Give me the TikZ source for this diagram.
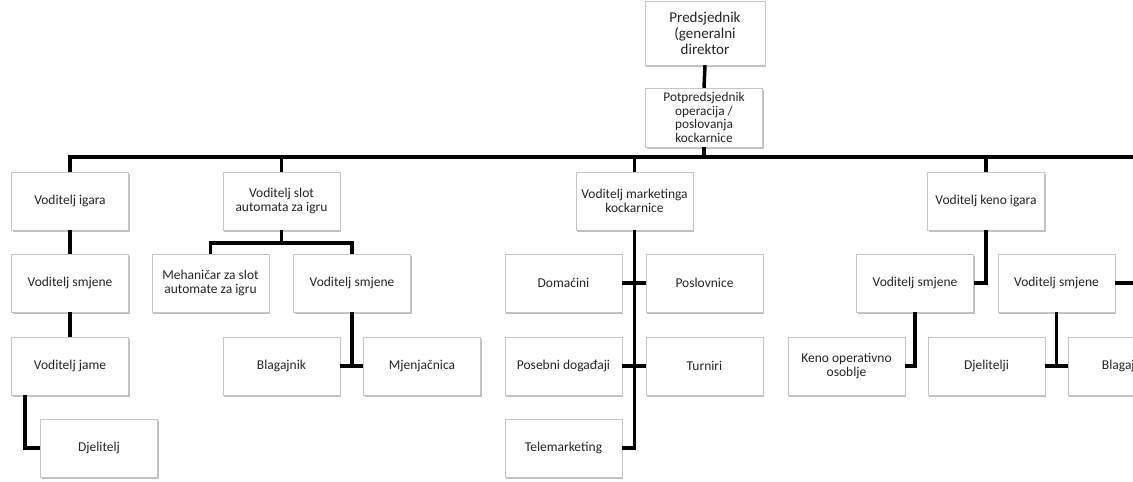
\documentclass[tikz,border=0pt]{standalone}
\usepackage{fontspec}
\setmainfont{Carlito}
\usetikzlibrary{shadows}
\begin{document}
\begin{tikzpicture}[x=1pt,y=-1pt,
  box/.style={draw=gray!45, fill=white, minimum width=117pt, minimum height=58pt,
    align=center, inner sep=2pt, text=black!85,
    font=\fontsize{13.5}{14.5}\selectfont,
    drop shadow={shadow xshift=1pt,shadow yshift=-2pt,fill=black!45,opacity=0.55}},
  conn/.style={line width=3.5pt, black}]
\useasboundingbox (0,0) rectangle (1133,482);
\clip (0,0) rectangle (1133,482);
\fill[white] (0,0) rectangle (1133,482);
% top
\node[box, minimum width=120pt, minimum height=64pt, font=\fontsize{15}{16}\selectfont] (pres) at (705,33) {Predsjednik\\(generalni\\direktor};
\node[box, minimum height=59pt, font=\fontsize{13.3}{13.6}\selectfont] (vp) at (704,117.5) {Potpredsjednik\\operacija /\\poslovanja\\kockarnice};
% level 1
\node[box] (igara) at (70,201) {Voditelj igara};
\node[box] (slot) at (281.5,201) {Voditelj slot\\automata za igru};
\node[box] (mkt) at (634.5,201) {Voditelj marketinga\\kockarnice};
\node[box] (keno) at (986,201) {Voditelj keno igara};
% level 2
\node[box] (smj1) at (70,283) {Voditelj smjene};
\node[box] (meh) at (210.5,283) {Mehaničar za slot\\automate za igru};
\node[box] (smjS) at (352,283) {Voditelj smjene};
\node[box] (dom) at (563.5,283) {Domaćini};
\node[box] (pos) at (704.5,283) {Poslovnice};
\node[box] (ksm1) at (915,283) {Voditelj smjene};
\node[box] (ksm2) at (1056.5,283) {Voditelj smjene};
% level 3
\node[box] (jame) at (70,366) {Voditelj jame};
\node[box] (blag) at (281.5,366) {Blagajnik};
\node[box] (mjen) at (422,366) {Mjenjačnica};
\node[box] (poseb) at (563.5,366) {Posebni događaji};
\node[box] (turn) at (704.5,366) {Turniri};
\node[box] (kop) at (846.5,366) {Keno operativno\\osoblje};
\node[box] (djl) at (986.5,366) {Djelitelji};
\node[box] (blag2) at (1126.5,366) {Blagajnik};
% level 4
\node[box] (djel) at (99,448) {Djelitelj};
\node[box] (tele) at (563.5,448) {Telemarketing};
% free ends
\coordinate (barR) at (1140,157);
\coordinate (kR) at (1140,283);
% connectors
\draw[conn] (pres.south) -- (vp.north);
\draw[conn] (igara.north) |- (barR);
\draw[conn] (vp.south) -- (vp.south |- barR);
\draw[conn] (slot.north) -- (slot.north |- barR);
\draw[conn] (mkt.north) -- (mkt.north |- barR);
\draw[conn] (keno.north) -- (keno.north |- barR);
\draw[conn] (igara.south) -- (smj1.north);
\draw[conn] (smj1.south) -- (jame.north);
\draw[conn] ([xshift=-45pt]jame.south) |- (djel.west);
\draw[conn] (meh.north) -- ++(0,-11) -| (smjS.north);
\draw[conn] (slot.south) -- ++(0,13);
\draw[conn] (blag.east) -- (mjen.west);
\draw[conn] (smjS.south) -- (smjS.south |- blag.east);
\draw[conn] (mkt.south) |- (tele.east);
\draw[conn] (dom.east) -- (pos.west);
\draw[conn] (poseb.east) -- (turn.west);
\draw[conn] (keno.south) |- (ksm1.east);
\draw[conn] (ksm2.east) -- (kR);
\draw[conn] (ksm1.south) |- (kop.east);
\draw[conn] (djl.east) -- (blag2.west);
\draw[conn] (ksm2.south) -- (ksm2.south |- djl.east);
\end{tikzpicture}
\end{document}
